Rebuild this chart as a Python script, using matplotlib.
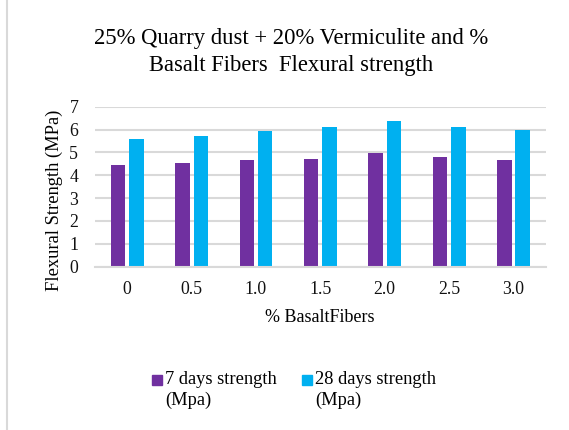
import numpy as np
import matplotlib
matplotlib.use("Agg")
import matplotlib.pyplot as plt
from matplotlib.lines import Line2D
from matplotlib.patches import Rectangle

plt.rcParams['font.family'] = ['Liberation Serif', 'DejaVu Serif']

fibers = ['0', '0.5', '1.0', '1.5', '2.0', '2.5', '3.0']
days7 = [4.44, 4.54, 4.67, 4.71, 4.96, 4.78, 4.67]
days28 = [5.59, 5.73, 5.95, 6.11, 6.37, 6.10, 5.99]
names = ['7 days strength\n(Mpa)', '28 days strength\n(Mpa)']
colors = ['#7030A0', '#00B0F0']

W, H = 569, 430
fig = plt.figure(figsize=(W/100, H/100), dpi=100)
ax = fig.add_axes([95/W, 1-266.7/H, (545.7-95)/W, 160/H])

x = np.arange(len(fibers))
bw = 0.225
ax.bar(x - 0.143, days7, bw, color=colors[0])
ax.bar(x + 0.143, days28, bw, color=colors[1])

ax.set_xlim(-0.5, len(fibers) - 0.5)
ax.set_ylim(0, 7)
ax.set_yticks(range(0, 8))
ax.set_xticks(x)
ax.set_xticklabels(fibers)
ax.tick_params(axis='both', length=0, labelsize=12.8, colors='#111111')
ax.tick_params(axis='x', pad=10)
ax.tick_params(axis='y', pad=12)
ax.grid(axis='y', color='#d9d9d9', linewidth=1.5)
ax.set_axisbelow(True)
for s in ['top', 'right', 'left']:
    ax.spines[s].set_visible(False)
ax.spines['bottom'].set_color('#d9d9d9')
ax.spines['bottom'].set_linewidth(1.5)

fig.text(320/W, 1-317/H, '% BasaltFibers', fontsize=13, ha='center', va='center')
fig.text(54/W, 1-200/H, 'Flexural Strength (MPa)', fontsize=13.3, ha='center', va='center',
         rotation=90)

fig.text(291/W, 1-52/H, '25% Quarry dust + 20% Vermiculite and %\nBasalt Fibers  Flexural strength',
         ha='center', va='center', fontsize=16.3, linespacing=1.33)

# legend drawn by hand so the square sits on the first text line
for lx, name, c in zip([152, 302], names, colors):
    fig.patches.append(Rectangle((lx/W, 1-385/H), 10/W, 10/H, transform=fig.transFigure,
                                 color=c))
    fig.text((lx+13)/W, 1-371/H, name, fontsize=13.3, ha='left', va='top',
             linespacing=1.3)

fig.add_artist(Line2D([7/W, 7/W], [0, 1], transform=fig.transFigure,
                      color='#d9d9d9', linewidth=1.5))

fig.savefig('out.png', dpi=100)
